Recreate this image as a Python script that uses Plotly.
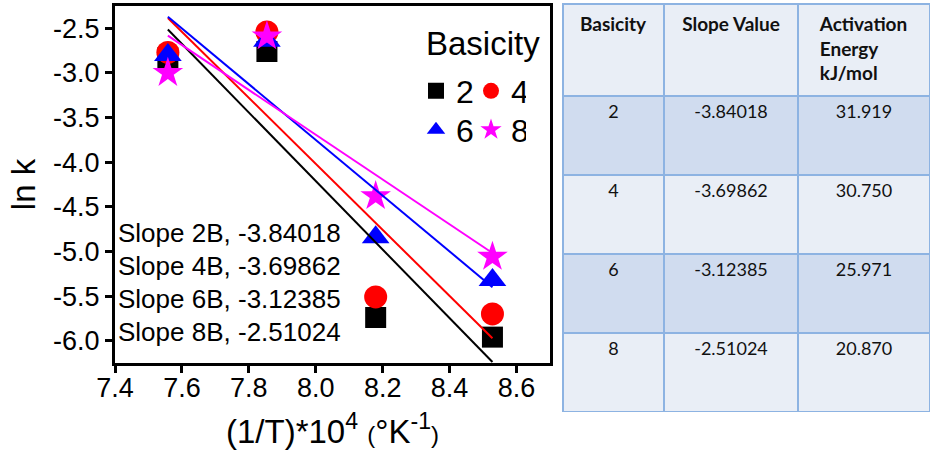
import plotly.graph_objects as go

# ---------------- data ----------------
inv_T = [7.558, 7.854, 8.179, 8.528]          # (1/T)*10^4
basicity = ["2", "4", "6", "8"]
lnk_2 = [-2.83, -2.76, -5.74, -5.96]
lnk_4 = [-2.77, -2.54, -5.51, -5.70]
lnk_6 = [-2.80, -2.64, -4.84, -5.32]
lnk_8 = [-3.00, -2.59, -4.38, -5.06]
slopes = [-3.84018, -3.69862, -3.12385, -2.51024]
intercepts = [26.51, 25.57, 21.24, 16.39]
energies = [31.919, 30.750, 25.971, 20.870]
x_ticks = [7.4, 7.6, 7.8, 8.0, 8.2, 8.4, 8.6]
y_ticks = [-6.0, -5.5, -5.0, -4.5, -4.0, -3.5, -3.0, -2.5]

series = [lnk_2, lnk_4, lnk_6, lnk_8]
colors = ["#000000", "#FF0000", "#0000FF", "#FF00FF"]
symbols = ["square", "circle", "triangle-up", "star"]
sizes = [21, 23, 24, 23]
legends = ["legend", "legend", "legend2", "legend2"]

W, H = 930, 450
PL, PR, PT, PB = 115, 550, 6, 363   # plot-area pixel box
FONT = "Liberation Sans, Arial, sans-serif"

fig = go.Figure()

for b, ys, c, s, sz, lg in zip(basicity, series, colors, symbols, sizes, legends):
    fig.add_trace(go.Scatter(
        x=inv_T, y=ys, mode="markers", name=b, legend=lg,
        marker=dict(symbol=s, size=sz, color=c, line=dict(width=0)),
        xaxis="x", yaxis="y"))

# linear fit lines (drawn on top of the markers)
x_fit = [inv_T[0], inv_T[-1]]
for m, b0, c in zip(slopes, intercepts, colors):
    fig.add_trace(go.Scatter(
        x=x_fit, y=[b0 + m * xv for xv in x_fit], mode="lines",
        line=dict(color=c, width=2), showlegend=False, hoverinfo="skip"))

# table
header = ["<b>Basicity</b>", "<b>Slope Value</b>", "<b>Activation<br>Energy<br>kJ/mol</b>"]
row_fill = ["#D0DCEF", "#E9EEF6", "#D0DCEF", "#E9EEF6"]
fig.add_trace(go.Table(
    domain=dict(x=[563 / W, 1.0], y=[1 - 412 / H, 1 - 4 / H]),
    columnwidth=[101, 134, 132],
    header=dict(values=header, fill_color="#E9EEF6",
                line=dict(color="#8DB3E2", width=2),
                align="center", height=92,
                font=dict(family="Lato, sans-serif", size=19, color="#111111")),
    cells=dict(values=[basicity,
                       [f"{v:.5f}" for v in slopes],
                       [f"{v:.3f}" for v in energies]],
               fill_color=[row_fill] * 3,
               line=dict(color="#8DB3E2", width=2),
               align="center", height=79,
               font=dict(family="Lato, sans-serif", size=18, color="#111111")),
))

annotations = []
for i, (b, m) in enumerate(zip(basicity, slopes)):
    annotations.append(dict(
        xref="paper", yref="paper", x=116 / W, y=1 - (233 + 33 * i) / H,
        xanchor="left", yanchor="middle", showarrow=False,
        text=f"Slope {b}B, {m:.5f}",
        font=dict(family=FONT, size=26, color="#000000")))
annotations.append(dict(
    xref="paper", yref="paper", x=424 / W, y=1 - 44 / H,
    xanchor="left", yanchor="middle", showarrow=False,
    text="Basicity", font=dict(family=FONT, size=33, color="#000000")))

axis_common = dict(showline=True, linecolor="#000000", linewidth=3, mirror=True,
                   ticks="outside", ticklen=7, tickwidth=3, tickcolor="#000000",
                   showgrid=False, zeroline=False, automargin=False)

fig.update_layout(
    width=W, height=H, margin=dict(l=0, r=0, t=0, b=0),
    paper_bgcolor="white", plot_bgcolor="white",
    font=dict(family=FONT, color="#000000"),
    xaxis=dict(domain=[PL / W, PR / W], range=[7.4, 8.7],
               tickvals=x_ticks, ticktext=[f"{v:.1f}" for v in x_ticks],
               tickfont=dict(size=27), ticklabelstandoff=-8,
               title=dict(text="(1/T)*10<sup>4</sup> <span style='font-size:24px'>(</span>°K<sup>-1</sup><span style='font-size:24px'>)</span>",
                          font=dict(size=33), standoff=57),
               **axis_common),
    yaxis=dict(domain=[1 - PB / H, 1 - PT / H], range=[-6.25, -2.25],
               tickvals=y_ticks, ticktext=[f"{v:.1f}" for v in y_ticks],
               tickfont=dict(size=27),
               title=dict(text="ln k", font=dict(size=33), standoff=8),
               **axis_common),
    legend=dict(orientation="h", x=416 / W, y=1 - 91 / H, xanchor="left", yanchor="middle",
                font=dict(size=32), entrywidth=10, entrywidthmode="pixels",
                bgcolor="rgba(0,0,0,0)", itemsizing="trace"),
    legend2=dict(orientation="h", x=416 / W, y=1 - 130 / H, xanchor="left", yanchor="middle",
                 font=dict(size=32), entrywidth=10, entrywidthmode="pixels",
                 bgcolor="rgba(0,0,0,0)", itemsizing="trace"),
    annotations=annotations,
    showlegend=True,
)

fig.write_html("out.html", config={"displayModeBar": False},
               post_script="document.body.style.margin='0px';document.body.style.overflow='hidden';")
